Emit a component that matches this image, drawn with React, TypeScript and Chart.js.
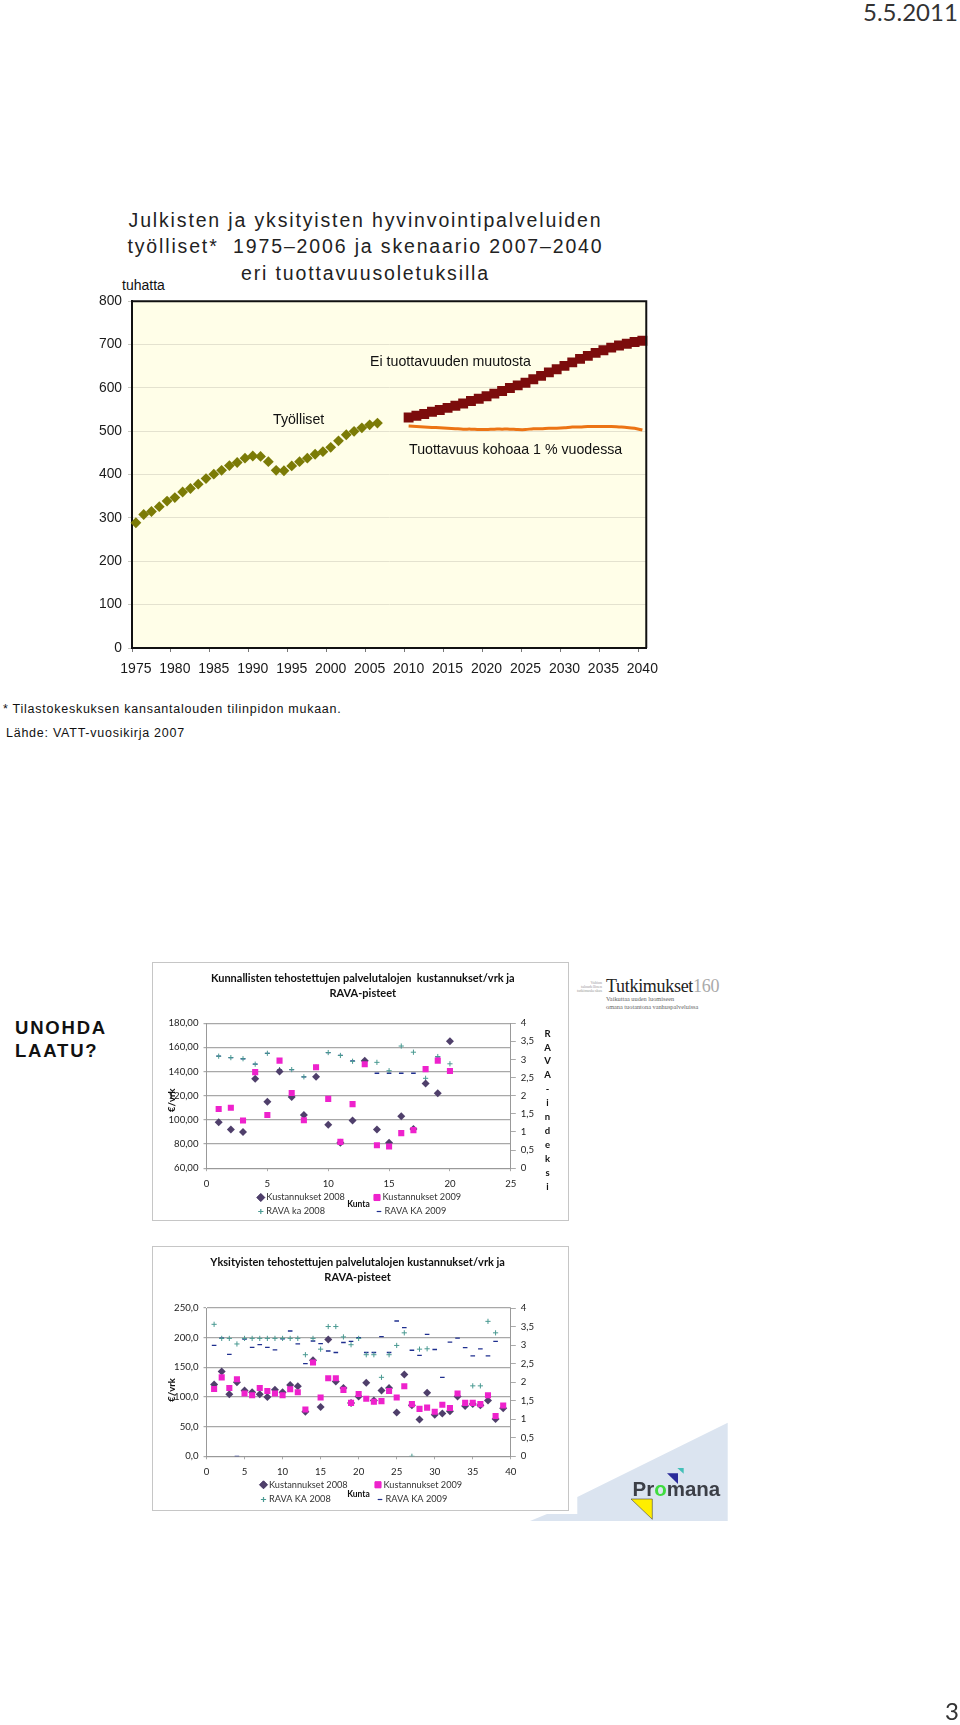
import React, { useEffect, useRef } from "react";
import { Chart, registerables } from "chart.js";
import { drawPoint } from "chart.js/helpers";

Chart.register(...registerables);
const FONT = "'Liberation Sans', Arial, sans-serif";
const SOFT = "Lato, 'Open Sans', sans-serif";

const years = Array.from({ length: 66 }, (_, i) => String(1975 + i));
const employed = [289, 308, 315, 326, 339, 347, 360, 368, 378, 391, 401, 410, 421, 428, 438, 443, 442, 430, 410, 409, 420, 430, 438, 447, 453, 463, 478, 492, 500, 508, 515, 519];
const noGrowth = [532, 536, 540, 545, 549, 554, 559, 564, 570, 575, 581, 587, 593, 600, 606, 612, 620, 628, 636, 643, 651, 659, 667, 674, 681, 687, 693, 698, 702, 706, 709];
const onePct = [512, 511, 510, 509, 508, 507, 506, 505, 505, 504, 504, 505, 505, 505, 504, 504, 506, 506, 507, 507, 508, 510, 510, 511, 511, 511, 511, 510, 509, 507, 503];

const pub08 = [98, 92, 90, 134, 115, 140, 119, 104, 135.6, 96, 81, 99.5, 149, 92, 81, 103, 92.5, 130, 122, 165];
const pub09 = [109, 110, 99.5, 139.5, 104, 149, 122.3, 99.7, 143.6, 117.4, 81.8, 113, 146, 79, 78, 89, 91.5, 142, 149, 140.5];
const pubRava08 = [3.09, 3.05, 3.02, 2.87, 3.17, 2.72, 2.72, 2.52, 2.79, 3.19, 3.11, 2.95, 2.97, 2.92, 2.69, 3.37, 3.2, 2.48, 3.08, 2.88];
const pubRava09 = [3.09, 3.05, 3.02, 2.87, 3.17, 2.72, 2.72, 2.52, 2.8, 3.19, 3.11, 2.96, 2.98, 2.62, 2.62, 2.62, 2.62, null, 3.07, null];

const pri08 = [121, 143, 104.5, 125, 111, 108, 104.5, 100, 112, 108, 120, 118, 75, 162, 83, 197, 126, 115, 90, 101, 124, 94, 111, 115, 74, 138, 86, 62, 107, 70, 72, 76, 101, 85, 88, 86, 94, 63, 81];
const pri09 = [113.5, 133, 115, 130, 106, 103, 115, 110, 106, 103, 113, 108, 79, 158, 99, 131.5, 131.5, 112, 90, 105, 97, 92, 93, 110, 99, 118, 88, 80, 82, 75, 87, 81.5, 106, 90, 90, 88, 103, 68, 85.5];
const priRava08 = [3.56, 3.18, 3.18, 3.03, 3.18, 3.18, 3.18, 3.18, 3.18, 3.18, 3.18, 3.18, 2.74, 3.18, 2.89, 3.5, 3.5, 3.22, 3.01, 3.18, 2.74, 2.74, 2.13, 2.74, 2.99, 3.33, 0, 2.89, 2.9, null, null, null, null, null, 1.9, 1.9, 3.64, 3.33, null];
const priRava09 = [2.99, 3.19, 2.75, 0, 3.16, 2.94, 3.01, 2.94, 2.87, 3.17, 3.38, 3.03, 2.5, 3.11, 3.04, 2.84, 2.8, 3.07, 3.1, 3.2, 2.8, 2.8, 3.23, 2.8, 3.65, 3.47, 2.86, 2.72, 3.29, 2.88, 2.13, 3.08, 3.19, 2.93, 2.71, 2.9, 2.71, 3.1, null];

const DIAMOND = "#4f3f6b", PINK = "#ee22cc", TEAL = "#4a9a92", NAVY = "#1f2f8f";
const comma = (v: number, d: number) => Number(v).toFixed(d).replace(".", ",");
const pts = (vals: (number | null)[]) => vals.map((y, i) => ({ x: i + 1, y }));

function TopChart() {
  const ref = useRef<HTMLCanvasElement>(null);
  useEffect(() => {
    const fromYear = (vals: number[], start: number) => vals.map((y, i) => ({ x: String(start + i), y }));
    const c = new Chart(ref.current!, {
      type: "line",
      data: {
        labels: years,
        datasets: [
          { data: fromYear(onePct, 2010), borderColor: "#ec7414", borderWidth: 3, pointRadius: 0, tension: 0.3, order: 3 },
          { data: fromYear(noGrowth, 2010), borderColor: "#7c0c0c", backgroundColor: "#7c0c0c", borderWidth: 0, pointStyle: "rect", pointRadius: 7, showLine: false },
          { data: fromYear(employed, 1975), borderColor: "#7b7b06", backgroundColor: "#7b7b06", borderWidth: 0, pointStyle: "rectRot", pointRadius: 5.4, showLine: false },
        ],
      } as any,
      options: {
        animation: false, responsive: false,
        layout: { padding: { left: 0, right: 3, top: 7, bottom: 0 } },
        plugins: { legend: { display: false }, tooltip: { enabled: false } },
        scales: {
          x: {
            type: "category", offset: true,
            grid: { drawOnChartArea: false, offset: true, tickLength: 4, tickColor: (ctx: any) => (ctx.index % 5 === 0 ? "#777" : "rgba(0,0,0,0)") },
            border: { color: "#111", width: 2 },
            ticks: { autoSkip: false, maxRotation: 0, color: "#1a1a1a", font: { family: FONT, size: 14 }, padding: 9, callback: (_v: any, i: number) => (i % 5 === 0 ? years[i] : "") },
            afterFit: (s: any) => { s.height = 35; },
          },
          y: {
            min: 0, max: 800,
            grid: { color: "#e4e2cf", lineWidth: 1, tickLength: 4, tickColor: "#c8c8c0" },
            border: { color: "#111", width: 2 },
            ticks: { stepSize: 100, color: "#1a1a1a", font: { family: FONT, size: 13.8 }, padding: 6 },
            afterFit: (s: any) => { s.width = 42; },
          },
        },
      },
      plugins: [{
        id: "frame",
        beforeDraw(ch: any) { const a = ch.chartArea; ch.ctx.fillStyle = "#fffee8"; ch.ctx.fillRect(a.left, a.top, a.width, a.height); },
        afterDraw(ch: any) { const a = ch.chartArea; const x = ch.ctx; x.strokeStyle = "#111"; x.lineWidth = 2; x.beginPath(); x.moveTo(a.left, a.top); x.lineTo(a.right, a.top); x.lineTo(a.right, a.bottom); x.stroke(); },
      }],
    } as any);
    return () => c.destroy();
  }, []);
  return <canvas ref={ref} width={577} height={396} style={{ position: "absolute", left: 90, top: 287, width: 577, height: 396, filter: "blur(0.25px)" }} />;
}

type ScatterProps = {
  left: number; top: number; width: number; height: number;
  title: string[]; titleX: number; d08: number[]; d09: number[]; r08: (number | null)[]; r09: (number | null)[];
  xMax: number; yMin: number; yMax: number; yStep: number; yDec: number; rLabel: string;
  legendY: number[]; legendX: number[]; legend: string[]; plotTop: number; plotH: number; kuntaY: number; euroOff: number; xPad: number;
};

function Scatter(p: ScatterProps) {
  const ref = useRef<HTMLCanvasElement>(null);
  useEffect(() => {
    const styles = [
      { s: "rectRot", r: 4, c: DIAMOND }, { s: "rect", r: 4.3, c: PINK },
      { s: "cross", r: 2.6, c: TEAL }, { s: "line", r: 2.3, c: NAVY },
    ];
    const cw = p.width - 3, chh = p.height - 3;
    const c = new Chart(ref.current!, {
      type: "scatter",
      data: {
        datasets: [
          { data: pts(p.r09), yAxisID: "y2", pointStyle: "line", pointRadius: 2.3, pointBorderWidth: 1.3, pointBorderColor: NAVY, order: 4 },
          { data: pts(p.r08), yAxisID: "y2", pointStyle: "cross", pointRadius: 2.6, pointBorderWidth: 1, pointBorderColor: TEAL, order: 3 },
          { data: pts(p.d08), yAxisID: "y", pointStyle: "rectRot", pointRadius: 4, pointBorderWidth: 0, pointBackgroundColor: DIAMOND, order: 2 },
          { data: pts(p.d09), yAxisID: "y", pointStyle: "rect", pointRadius: 4.3, pointBorderWidth: 0, pointBackgroundColor: PINK, order: 1 },
        ],
      } as any,
      options: {
        animation: false, responsive: false,
        layout: { padding: { top: p.plotTop, left: 0, right: 0, bottom: 0 } },
        plugins: { legend: { display: false }, tooltip: { enabled: false } },
        scales: {
          x: {
            type: "linear", min: 0, max: p.xMax,
            ticks: { stepSize: 5, color: "#222", font: { family: SOFT, size: 9.6 }, padding: p.xPad },
            grid: { drawOnChartArea: false, tickLength: 3, tickColor: "#aaa" },
            border: { color: "#999" },
            afterFit: (s: any) => { s.height = chh - p.plotTop - p.plotH; },
          },
          y: {
            min: p.yMin, max: p.yMax,
            ticks: { stepSize: p.yStep, color: "#222", font: { family: SOFT, size: 9.6 }, padding: 5, callback: (v: any) => comma(v, p.yDec) },
            grid: { color: "#a8a8a8", lineWidth: 1.2, tickLength: 3, tickColor: "#aaa" },
            border: { color: "#999" },
            afterFit: (s: any) => { s.width = 53.5; },
          },
          y2: {
            position: "right", min: 0, max: 4,
            ticks: { stepSize: 0.5, color: "#222", font: { family: SOFT, size: 9.6 }, padding: 5, callback: (v: any) => comma(v, Number.isInteger(v) ? 0 : 1) },
            grid: { drawOnChartArea: false, tickLength: 5, tickColor: "#aaa" },
            border: { color: "#999" },
            afterFit: (s: any) => { s.width = cw - 53.5 - 304.3; },
          },
        },
      },
      plugins: [{
        id: "legendAndLabels",
        afterDraw(ch: any) {
          const x = ch.ctx;
          const a = ch.chartArea;
          x.save();
          x.fillStyle = "#111"; x.textAlign = "center"; x.textBaseline = "middle";
          x.font = `bold 11px ${SOFT}`;
          p.title.forEach((t, i) => x.fillText(t, p.titleX, 15.7 + i * 14.4));
          x.font = `bold 8.5px ${SOFT}`;
          x.fillText("Kunta", 205.5, p.kuntaY);
          x.save();
          x.translate(a.left - 35, a.top + p.euroOff);
          x.rotate(-Math.PI / 2);
          x.font = `bold 9.5px ${SOFT}`;
          x.fillText("€/vrk", 0, 0);
          x.restore();
          if (p.rLabel) {
            x.font = `bold 9.5px ${SOFT}`;
            Array.from(p.rLabel).forEach((letter, i) => x.fillText(letter, 394.5, 70.5 + i * 13.95));
          }
          x.textAlign = "left"; x.font = `9.2px ${SOFT}`;
          p.legend.forEach((t, i) => {
            const s = styles[i];
            const lx = p.legendX[i], ly = p.legendY[i];
            x.fillStyle = s.c; x.strokeStyle = s.c; x.lineWidth = i > 1 ? 1.2 : 0;
            drawPoint(x, { pointStyle: s.s, radius: s.r, rotation: 0, borderWidth: x.lineWidth } as any, lx, ly);
            if (i < 2) x.fill();
            x.fillStyle = "#333";
            x.fillText(t, lx + 5.5, ly);
          });
          x.restore();
        },
      }],
    } as any);
    return () => c.destroy();
  }, []);
  return (
    <div style={{ position: "absolute", left: p.left, top: p.top, width: p.width, height: p.height, boxSizing: "border-box", border: "1.5px solid #c6c6c6", background: "#fff" }}>
      <canvas ref={ref} width={p.width - 3} height={p.height - 3} style={{ display: "block", filter: "blur(0.45px)" }} />
    </div>
  );
}

const T: React.FC<{ x: number; y: number; s: number; style?: React.CSSProperties; children: React.ReactNode }> = ({ x, y, s, style, children }) => (
  <div style={{ position: "absolute", left: x, top: y, fontSize: s, lineHeight: 1, whiteSpace: "nowrap", fontFamily: FONT, color: "#111", ...style }}>{children}</div>
);

export default function App() {
  return (
    <div style={{ position: "absolute", left: 0, top: 0, width: 960, height: 1725, background: "#fff", overflow: "hidden" }}>
      <T x={863} y={0} s={24} style={{ fontFamily: SOFT, color: "#333" }}>5.5.2011</T>
      <div style={{ position: "absolute", left: 95.5, top: 207, width: 540, textAlign: "center", fontFamily: FONT, fontSize: 19.5, lineHeight: "26.4px", letterSpacing: 1.85, color: "#222" }}>
        Julkisten ja yksityisten hyvinvointipalveluiden<br />työlliset*&nbsp; 1975–2006 ja skenaario 2007–2040<br />eri tuottavuusoletuksilla
      </div>
      <T x={122} y={278} s={14}>tuhatta</T>
      <TopChart />
      <T x={370} y={354} s={14.2}>Ei tuottavuuden muutosta</T>
      <T x={273} y={412} s={14.2}>Työlliset</T>
      <T x={409} y={442} s={14.2}>Tuottavuus kohoaa 1 % vuodessa</T>
      <T x={3} y={703} s={12.5} style={{ letterSpacing: 0.75 }}>* Tilastokeskuksen kansantalouden tilinpidon mukaan.</T>
      <T x={6} y={727} s={12.5} style={{ letterSpacing: 0.75 }}>Lähde: VATT-vuosikirja 2007</T>
      <T x={15} y={1016} s={18.5} style={{ fontWeight: "bold", letterSpacing: 1.8, lineHeight: "23px" }}>UNOHDA<br />LAATU?</T>
      <Scatter left={152} top={962} width={417} height={259} title={["Kunnallisten tehostettujen palvelutalojen  kustannukset/vrk ja", "RAVA-pisteet"]} titleX={209.8}
        d08={pub08} d09={pub09} r08={pubRava08} r09={pubRava09} xMax={25} yMin={60} yMax={180} yStep={20} yDec={2} rLabel={"RAVA-indeksi"}
        legend={["Kustannukset 2008", "Kustannukset 2009", "RAVA ka 2008", "RAVA KA 2009"]} legendX={[107.8, 224, 107.8, 226]} legendY={[234.5, 234.5, 248.5, 248.5]}
        plotTop={60.2} plotH={145} kuntaY={241} euroOff={77} xPad={7} />
      <Scatter left={152} top={1246} width={417} height={265} title={["Yksityisten tehostettujen palvelutalojen kustannukset/vrk ja", "RAVA-pisteet"]} titleX={204.6}
        d08={pri08} d09={pri09} r08={priRava08} r09={priRava09} xMax={40} yMin={0} yMax={250} yStep={50} yDec={1} rLabel={""}
        legend={["Kustannukset 2008", "Kustannukset 2009", "RAVA KA 2008", "RAVA KA 2009"]} legendX={[110.5, 225, 110.5, 227]} legendY={[237.8, 237.8, 252.5, 252.5]}
        plotTop={61} plotH={148.3} kuntaY={246.8} euroOff={82} xPad={7} />
      <div style={{ position: "absolute", left: 570, top: 981, width: 32, textAlign: "right", fontFamily: "'Liberation Serif', serif", fontSize: 4, lineHeight: "4px", color: "#999" }}>
        Valtion<br />taloudellinen<br />tutkimuskeskus
      </div>
      <T x={606} y={977} s={18} style={{ fontFamily: "'Liberation Serif', serif", color: "#222", letterSpacing: -0.3 }}>Tutkimukset<span style={{ color: "#aaa" }}>160</span></T>
      <T x={606} y={994.5} s={6.3} style={{ fontFamily: "'Liberation Serif', serif", color: "#666", lineHeight: "8.5px" }}>Vaikuttaa uuden luomiseen<br />omana tuotantona vanhuspalveluissa</T>
      <svg width={960} height={1725} style={{ position: "absolute", left: 0, top: 0, pointerEvents: "none" }}>
        <polygon points="727.7,1422.7 727.7,1521 530,1521 547,1514 577.3,1514 577.3,1497" fill="#dbe4f0" />
        <polygon points="631,1499 652.3,1499 652.3,1519.3" fill="#ffee00" stroke="#444" strokeWidth={0.6} />
        <polygon points="667,1473.3 678,1473.3 678,1484" fill="#2a2a9a" />
        <polygon points="677.3,1468 683.7,1468 683.7,1473.7" fill="#44c0b8" />
      </svg>
      <T x={632.5} y={1479} s={20.5} style={{ fontWeight: "bold", color: "#3c3f47" }}>Pr<span style={{ color: "#3fdc3f" }}>o</span>mana</T>
      <T x={945} y={1699} s={24} style={{ fontFamily: SOFT, color: "#333" }}>3</T>
    </div>
  );
}
